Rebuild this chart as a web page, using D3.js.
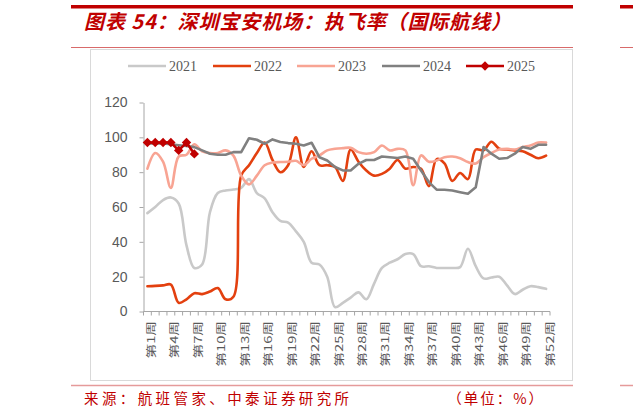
<!DOCTYPE html>
<html><head><meta charset="utf-8">
<script src="https://cdn.jsdelivr.net/npm/d3@7/dist/d3.min.js"></script>
<style>
html,body{margin:0;padding:0;background:#fff;}
svg{display:block;}
</style></head>
<body><svg id="c" width="633" height="419"></svg>
<script>
const weeks = d3.range(1, 53).map(i => "第" + i + "周");
const labelWeeks = d3.range(1, 53, 3).map(i => "第" + i + "周");
const seriesNames = ["2021", "2022", "2023", "2024", "2025"];
const yTicks = [0, 20, 40, 60, 80, 100, 120];

const v2021 = [56.5,60,64,65.5,62,38,25,27,57,68,69.5,70,71,76,68,65,57,52,51,46,40,28,27,20,2.5,5,8,11,7,16,25,28,30,33,33,26,26,25,25,25,25.5,36,26,19,19.5,20,15,10,12.5,14.5,14,13];
const v2022 = [14.5,14.7,15,15.5,5,7,10.5,10,11.5,13.5,7,8.5,78,84,91,97,87,80,84,100,83,92,84,84,83,75,93,86,81,78,79,82,87,82,83,82,72,87.5,85,75,79.5,76,93,92.5,97.5,93.5,93,92.5,92,90,88,89.5];
const v2023 = [82,91,86,71,89,90,96,92,91,91,92.5,89.5,78,73,78,84,85.5,85.8,86,86.5,84,87.7,89.6,92.5,93.4,93.8,94,91.5,90.6,91.5,95.3,92.5,93.4,92.5,72.5,89.6,86,86.7,88.6,89,88,85.8,85,88.6,91,93,93.4,93,94.4,95.3,97,97];
const v2024 = [96.5,96.5,96.5,96,95.5,95,94.4,92.5,90.6,90,90,91.5,91.5,99.5,98.6,96.3,98.8,97.3,96.7,96.3,95.3,96.9,88.6,86.7,83,81,81,84.8,87,87,89,88.6,88.1,89,87.7,81,74.3,70,69.9,69.5,68.5,67.6,71.4,94.4,90.6,87.7,88.1,90.6,94.4,93.4,95.7,95.7];
const v2025 = [97,97,97,97,92.5,97,90.5];

const colors = {"2021":"#c9c9c9","2022":"#e3400f","2023":"#f8a493","2024":"#808080","2025":"#c00000"};

const svg = d3.select("#c");
const red = "#c00000";

// header / footer decorations
svg.append("rect").attr("x",71).attr("y",5).attr("width",502).attr("height",3.5).attr("fill",red);
svg.append("rect").attr("x",620).attr("y",5).attr("width",13).attr("height",3.5).attr("fill",red);
svg.append("text").attr("x",84).attr("y",29)
  .attr("font-family","'Noto Sans CJK SC', sans-serif").attr("font-size",20).attr("font-weight","bold")
  .attr("letter-spacing",0.9)
  .attr("font-style","italic").attr("fill",red).text("图表 54：深圳宝安机场：执飞率（国际航线）");
svg.append("line").attr("x1",71).attr("x2",573).attr("y1",47.5).attr("y2",47.5).attr("stroke","#d86a6a").attr("stroke-width",1);
svg.append("line").attr("x1",620).attr("x2",633).attr("y1",47.5).attr("y2",47.5).attr("stroke","#d86a6a").attr("stroke-width",1);
svg.append("rect").attr("x",90.5).attr("y",49.5).attr("width",482).attr("height",331).attr("fill","none").attr("stroke","#d9d9d9");
svg.append("line").attr("x1",71).attr("x2",573).attr("y1",385.5).attr("y2",385.5).attr("stroke","#e59a9a").attr("stroke-width",1.5);
svg.append("line").attr("x1",620).attr("x2",633).attr("y1",385.5).attr("y2",385.5).attr("stroke","#e59a9a").attr("stroke-width",1.5);
svg.append("text").attr("x",84).attr("y",404)
  .attr("font-family","'Noto Sans CJK SC', sans-serif").attr("font-size",14.5).attr("letter-spacing",3.4)
  .attr("fill",red).text("来源：航班管家、中泰证券研究所");
svg.append("text").attr("x",545).attr("y",404).attr("text-anchor","end")
  .attr("font-family","'Noto Sans CJK SC', sans-serif").attr("font-size",14.5).attr("letter-spacing",2)
  .attr("fill",red).text("（单位：%）");

// scales
const x = d3.scaleBand().domain(weeks).range([143.5, 550]).padding(0);
const cx = d => x(d) + x.bandwidth()/2;
const y = d3.scaleLinear().domain([0,120]).range([311.5, 102.5]);
const axisColor = "#a6a6a6";
const textColor = "#595959";

// y axis
const yAxis = svg.append("g").attr("transform","translate(143.5,0)")
  .call(d3.axisLeft(y).tickValues(yTicks).tickSize(4).tickPadding(12).tickSizeOuter(0));
yAxis.select(".domain").attr("stroke",axisColor);
yAxis.selectAll(".tick line").attr("stroke",axisColor);
yAxis.selectAll(".tick text").attr("font-family","'Liberation Sans', Arial, sans-serif").attr("font-size",14).attr("fill",textColor);

// x axis
const xg = svg.append("g");
xg.append("line").attr("x1",143.5).attr("x2",550).attr("y1",311.5).attr("y2",311.5).attr("stroke",axisColor);
const bounds = weeks.map(w => x(w)).concat([550]);
xg.selectAll("line.t").data(bounds).enter().append("line").attr("class","t")
  .attr("x1",d=>d).attr("x2",d=>d).attr("y1",311.5).attr("y2",315.5).attr("stroke",axisColor);
xg.selectAll("text").data(labelWeeks).enter().append("text")
  .attr("transform",d=>`translate(${cx(d)+3},321) rotate(-90) scale(1.4,1)`)
  .attr("text-anchor","end").attr("dominant-baseline","central")
  .attr("font-family","'Noto Sans CJK SC', sans-serif").attr("font-size",10.5).attr("fill",textColor)
  .text(d=>d);

// lines
const smooth = d3.line().x((d,i)=>cx(weeks[i])).y(d=>y(d)).curve(d3.curveCatmullRom.alpha(0.5));
const straight = d3.line().x((d,i)=>cx(weeks[i])).y(d=>y(d));
const plot = svg.append("g").attr("fill","none").attr("stroke-linejoin","round").attr("stroke-linecap","round");
plot.append("path").attr("d",smooth(v2021)).attr("stroke",colors["2021"]).attr("stroke-width",2.6);
plot.append("path").attr("d",smooth(v2022)).attr("stroke",colors["2022"]).attr("stroke-width",2.6);
plot.append("path").attr("d",smooth(v2023)).attr("stroke",colors["2023"]).attr("stroke-width",2.6);
plot.append("path").attr("d",straight(v2024)).attr("stroke",colors["2024"]).attr("stroke-width",2.6);
plot.append("path").attr("d",straight(v2025)).attr("stroke",colors["2025"]).attr("stroke-width",2.6);
const sym = d3.symbol().type(d3.symbolSquare).size(44);
svg.append("g").selectAll("path").data(v2025).enter().append("path")
  .attr("d",sym()).attr("fill",colors["2025"])
  .attr("transform",(d,i)=>`translate(${cx(weeks[i])},${y(d)}) rotate(45)`);

// legend
const legX = [128, 213, 297, 382, 466];
const lg = svg.append("g");
seriesNames.forEach((s,i)=>{
  lg.append("line").attr("x1",legX[i]).attr("x2",legX[i]+38).attr("y1",66).attr("y2",66)
    .attr("stroke",colors[s]).attr("stroke-width",2.6);
  if (s==="2025") lg.append("path").attr("d",sym()).attr("fill",colors[s])
    .attr("transform",`translate(${legX[i]+19},66) rotate(45)`);
  lg.append("text").attr("x",legX[i]+41).attr("y",66).attr("dominant-baseline","central")
    .attr("font-family","'Liberation Serif', 'Times New Roman', serif").attr("font-size",14).attr("fill",textColor).text(s);
});
</script></body></html>
